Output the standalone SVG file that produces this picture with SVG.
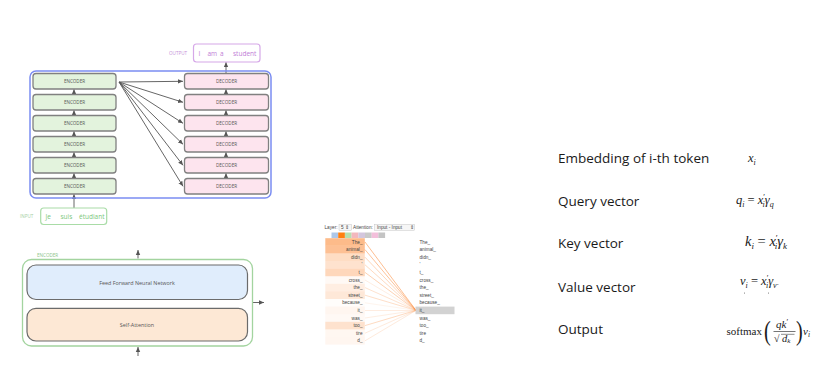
<svg xmlns="http://www.w3.org/2000/svg" width="815" height="378" viewBox="0 0 815 378">
<defs>
<marker id="ah" markerWidth="6" markerHeight="6" refX="5" refY="3" orient="auto" markerUnits="userSpaceOnUse">
<path d="M0,0.8 L5,3 L0,5.2 Z" fill="#555"/>
</marker>
<style>
.lbl{font-family:"Open Sans","Liberation Sans",sans-serif;font-size:4.6px;fill:#555;text-anchor:middle;dominant-baseline:central}
.lbl2{font-family:"Open Sans","Liberation Sans",sans-serif;font-size:5.4px;fill:#555;text-anchor:middle;dominant-baseline:central}
.enc{fill:#e3f3dd;stroke:#808080;stroke-width:1.3}
.dec{fill:#fde4ee;stroke:#808080;stroke-width:1.3}
.arr{stroke:#555;stroke-width:0.9;fill:none;marker-end:url(#ah)}
.big{font-family:"Open Sans","Liberation Sans",sans-serif;font-size:13.5px;fill:#1a1a1a}
.m{font-family:"Liberation Serif","DejaVu Serif",serif;fill:#1a1a1a}
.mi{font-style:italic}
.att{font-family:"Liberation Sans",sans-serif;font-size:4.7px;fill:#444;dominant-baseline:central}
.al{stroke:#fc8d3c;stroke-width:0.7}
</style>
</defs>

<g id="connectors">
<line class="arr" x1="119" y1="82" x2="183" y2="81.3"/>
<line class="arr" x1="119" y1="82" x2="183" y2="102.3"/>
<line class="arr" x1="119" y1="82" x2="183" y2="123.3"/>
<line class="arr" x1="119" y1="82" x2="183" y2="144.3"/>
<line class="arr" x1="119" y1="82" x2="183" y2="165.3"/>
<line class="arr" x1="119" y1="82" x2="183" y2="186.3"/>
<line class="arr" x1="74" y1="94.5" x2="74" y2="89.2"/>
<line class="arr" x1="74" y1="115.5" x2="74" y2="110.2"/>
<line class="arr" x1="74" y1="136.5" x2="74" y2="131.2"/>
<line class="arr" x1="74" y1="157.5" x2="74" y2="152.2"/>
<line class="arr" x1="74" y1="178.5" x2="74" y2="173.2"/>
<line class="arr" x1="74" y1="208" x2="74" y2="194.2"/>
<line class="arr" x1="226" y1="94.5" x2="226" y2="89.2"/>
<line class="arr" x1="226" y1="115.5" x2="226" y2="110.2"/>
<line class="arr" x1="226" y1="136.5" x2="226" y2="131.2"/>
<line class="arr" x1="226" y1="157.5" x2="226" y2="152.2"/>
<line class="arr" x1="226" y1="178.5" x2="226" y2="173.2"/>
<line class="arr" x1="226" y1="73.5" x2="226" y2="62.2"/>
<line class="arr" x1="138" y1="258.5" x2="138" y2="250"/>
<line class="arr" x1="138" y1="308" x2="138" y2="299.5"/>
<line class="arr" x1="252" y1="302.5" x2="264" y2="302.5"/>
<line class="arr" x1="138" y1="356" x2="138" y2="347"/>
</g>

<g id="stack">
<rect x="30" y="71" width="241" height="127" rx="6" fill="none" stroke="#7b8df2" stroke-width="1.5"/>
</g>

<g id="encoders">
<rect class="enc" x="33" y="73.5" width="83" height="15.5" rx="3"/><text class="lbl" x="74.5" y="81.3">ENCODER</text>
<rect class="enc" x="33" y="94.5" width="83" height="15.5" rx="3"/><text class="lbl" x="74.5" y="102.3">ENCODER</text>
<rect class="enc" x="33" y="115.5" width="83" height="15.5" rx="3"/><text class="lbl" x="74.5" y="123.3">ENCODER</text>
<rect class="enc" x="33" y="136.5" width="83" height="15.5" rx="3"/><text class="lbl" x="74.5" y="144.3">ENCODER</text>
<rect class="enc" x="33" y="157.5" width="83" height="15.5" rx="3"/><text class="lbl" x="74.5" y="165.3">ENCODER</text>
<rect class="enc" x="33" y="178.5" width="83" height="15.5" rx="3"/><text class="lbl" x="74.5" y="186.3">ENCODER</text>
</g>

<g id="decoders">
<rect class="dec" x="184.5" y="73.5" width="84" height="15.5" rx="3"/><text class="lbl" x="226.5" y="81.3">DECODER</text>
<rect class="dec" x="184.5" y="94.5" width="84" height="15.5" rx="3"/><text class="lbl" x="226.5" y="102.3">DECODER</text>
<rect class="dec" x="184.5" y="115.5" width="84" height="15.5" rx="3"/><text class="lbl" x="226.5" y="123.3">DECODER</text>
<rect class="dec" x="184.5" y="136.5" width="84" height="15.5" rx="3"/><text class="lbl" x="226.5" y="144.3">DECODER</text>
<rect class="dec" x="184.5" y="157.5" width="84" height="15.5" rx="3"/><text class="lbl" x="226.5" y="165.3">DECODER</text>
<rect class="dec" x="184.5" y="178.5" width="84" height="15.5" rx="3"/><text class="lbl" x="226.5" y="186.3">DECODER</text>
</g>

<g id="output">
<text x="169" y="53" font-family="Open Sans, Liberation Sans, sans-serif" font-size="4.6" fill="#c590d8" dominant-baseline="central">OUTPUT</text>
<rect x="193.5" y="44" width="66.5" height="18" rx="3" fill="#fff" stroke="#d6a8e8" stroke-width="1.2"/>
<g font-family="Open Sans, Liberation Sans, sans-serif" font-size="6.5" fill="#c07cd6" dominant-baseline="central">
<text x="198.5" y="53">I</text><text x="207.5" y="53">am</text><text x="220" y="53">a</text><text x="233" y="53">student</text>
</g>
</g>

<g id="input">
<text x="20" y="216" font-family="Open Sans, Liberation Sans, sans-serif" font-size="4.6" fill="#a6cfa4" dominant-baseline="central">INPUT</text>
<rect x="40.7" y="208" width="66" height="16.5" rx="3" fill="#fff" stroke="#a9dca7" stroke-width="1.2"/>
<g font-family="Open Sans, Liberation Sans, sans-serif" font-size="6.5" fill="#7cc77a" dominant-baseline="central">
<text x="45.5" y="216.2">Je</text><text x="60.5" y="216.2">suis</text><text x="79" y="216.2">étudiant</text>
</g>
</g>

<g id="encoder-detail">
<text x="37" y="255" font-family="Open Sans, Liberation Sans, sans-serif" font-size="4.6" fill="#8cc489" dominant-baseline="central">ENCODER</text>
<rect x="22.5" y="259.5" width="230" height="86.5" rx="9" fill="#fff" stroke="#a3d49f" stroke-width="1.3"/>
<rect x="27" y="265" width="220.5" height="34.5" rx="9" fill="#e0edfc" stroke="#6b6b6b" stroke-width="1.2"/>
<text class="lbl2" x="137" y="282.5">Feed Forward Neural Network</text>
<rect x="27" y="308.3" width="220.5" height="32.7" rx="9" fill="#fde8d5" stroke="#6b6b6b" stroke-width="1.2"/>
<text class="lbl2" x="137" y="325">Self-Attention</text>
</g>

<g id="attention-vis">
<text class="att" x="324.5" y="227.2">Layer:</text>
<rect x="339" y="224.3" width="12.5" height="6" fill="#f6f6f6" stroke="#bbb" stroke-width="0.4"/>
<text class="att" x="341" y="227.2">5 ⇕</text>
<text class="att" x="353" y="227.2">Attention:</text>
<rect x="374.7" y="224.3" width="40" height="6" fill="#f6f6f6" stroke="#bbb" stroke-width="0.4"/>
<text class="att" x="377" y="227.2">Input - Input</text>
<text class="att" x="410" y="227.2">⇕</text>
<rect x="331.5" y="232.5" width="6.7" height="5.5" fill="#aec7e8"/>
<rect x="338.2" y="232.5" width="6.7" height="5.5" fill="#ff7f0e"/>
<rect x="344.9" y="232.5" width="6.7" height="5.5" fill="#b7dfae"/>
<rect x="351.6" y="232.5" width="6.7" height="5.5" fill="#f3b7bd"/>
<rect x="358.3" y="232.5" width="6.7" height="5.5" fill="#d3c6dd"/>
<rect x="365" y="232.5" width="6.7" height="5.5" fill="#c9c9c9"/>
<rect x="371.7" y="232.5" width="6.7" height="5.5" fill="#f3bfdb"/>
<rect x="378.4" y="232.5" width="6.7" height="5.5" fill="#c4c4c4"/>

<g fill="#fc8d3c">
<rect x="325.3" y="238.2" width="39.5" height="7.6" opacity="0.6"/>
<rect x="325.3" y="245.8" width="39.5" height="7.6" opacity="0.55"/>
<rect x="325.3" y="253.4" width="39.5" height="7.6" opacity="0.3"/>
<rect x="325.3" y="261" width="39.5" height="7.6" opacity="0.25"/>
<rect x="325.3" y="268.6" width="39.5" height="7.6" opacity="0.35"/>
<rect x="325.3" y="276.2" width="39.5" height="7.6" opacity="0.05"/>
<rect x="325.3" y="283.8" width="39.5" height="7.6" opacity="0.15"/>
<rect x="325.3" y="291.4" width="39.5" height="7.6" opacity="0.2"/>
<rect x="325.3" y="299" width="39.5" height="7.6" opacity="0.02"/>
<rect x="325.3" y="306.6" width="39.5" height="7.6" opacity="0.08"/>
<rect x="325.3" y="314.2" width="39.5" height="7.6" opacity="0.05"/>
<rect x="325.3" y="321.8" width="39.5" height="7.6" opacity="0.25"/>
<rect x="325.3" y="329.4" width="39.5" height="7.6" opacity="0.07"/>
<rect x="325.3" y="337" width="39.5" height="7.6" opacity="0.08"/>
</g>
<g>
<line class="al" x1="365" y1="242" x2="416" y2="310.4" opacity="0.8"/>
<line class="al" x1="365" y1="249.6" x2="416" y2="310.4" opacity="0.75"/>
<line class="al" x1="365" y1="257.2" x2="416" y2="310.4" opacity="0.5"/>
<line class="al" x1="365" y1="264.8" x2="416" y2="310.4" opacity="0.45"/>
<line class="al" x1="365" y1="272.4" x2="416" y2="310.4" opacity="0.55"/>
<line class="al" x1="365" y1="280" x2="416" y2="310.4" opacity="0.2"/>
<line class="al" x1="365" y1="287.6" x2="416" y2="310.4" opacity="0.35"/>
<line class="al" x1="365" y1="295.2" x2="416" y2="310.4" opacity="0.4"/>
<line class="al" x1="365" y1="302.8" x2="416" y2="310.4" opacity="0.12"/>
<line class="al" x1="365" y1="310.4" x2="416" y2="310.4" opacity="0.25"/>
<line class="al" x1="365" y1="318" x2="416" y2="310.4" opacity="0.2"/>
<line class="al" x1="365" y1="325.6" x2="416" y2="310.4" opacity="0.45"/>
<line class="al" x1="365" y1="333.2" x2="416" y2="310.4" opacity="0.25"/>
<line class="al" x1="365" y1="340.8" x2="416" y2="310.4" opacity="0.25"/>
</g>
<g text-anchor="end">
<text class="att" x="362.5" y="242">The_</text>
<text class="att" x="362.5" y="249.6">animal_</text>
<text class="att" x="362.5" y="257.2">didn_</text>
<text class="att" x="362.5" y="264.8">'</text>
<text class="att" x="362.5" y="272.4">t_</text>
<text class="att" x="362.5" y="280">cross_</text>
<text class="att" x="362.5" y="287.6">the_</text>
<text class="att" x="362.5" y="295.2">street_</text>
<text class="att" x="362.5" y="302.8">because_</text>
<text class="att" x="362.5" y="310.4">it_</text>
<text class="att" x="362.5" y="318">was_</text>
<text class="att" x="362.5" y="325.6">too_</text>
<text class="att" x="362.5" y="333.2">tire</text>
<text class="att" x="362.5" y="340.8">d_</text>
</g>
<rect x="415.5" y="306.6" width="39" height="7.6" fill="#d2d2d2"/>
<g>
<text class="att" x="419.5" y="242">The_</text>
<text class="att" x="419.5" y="249.6">animal_</text>
<text class="att" x="419.5" y="257.2">didn_</text>
<text class="att" x="419.5" y="264.8">'</text>
<text class="att" x="419.5" y="272.4">t_</text>
<text class="att" x="419.5" y="280">cross_</text>
<text class="att" x="419.5" y="287.6">the_</text>
<text class="att" x="419.5" y="295.2">street_</text>
<text class="att" x="419.5" y="302.8">because_</text>
<text class="att" x="419.5" y="310.4">it_</text>
<text class="att" x="419.5" y="318">was_</text>
<text class="att" x="419.5" y="325.6">too_</text>
<text class="att" x="419.5" y="333.2">tire</text>
<text class="att" x="419.5" y="340.8">d_</text>
</g>
</g>

<g id="definitions">
<text class="big" x="558" y="163">Embedding of i-th token</text>
<text class="big" x="558" y="206">Query vector</text>
<text class="big" x="558" y="248">Key vector</text>
<text class="big" x="558" y="292">Value vector</text>
<text class="big" x="558" y="334">Output</text>

<text class="m" x="748" y="162" font-size="12.5"><tspan class="mi">x</tspan><tspan class="mi" font-size="8" dy="2.5">i</tspan></text>

<text class="m" x="736" y="204" font-size="12.5"><tspan class="mi">q</tspan><tspan class="mi" font-size="8" dy="2.5">i</tspan><tspan dy="-2.5"> = </tspan><tspan class="mi">x</tspan><tspan font-size="8" dy="-4.5">′</tspan><tspan class="mi" font-size="8" dx="-2.5" dy="7">i</tspan><tspan class="mi" dy="-2.5">γ</tspan><tspan class="mi" font-size="8" dy="2.5">q</tspan></text>

<text class="m" x="745" y="246" font-size="14.5"><tspan class="mi">k</tspan><tspan class="mi" font-size="9" dy="3">i</tspan><tspan dy="-3"> = </tspan><tspan class="mi">x</tspan><tspan font-size="9" dy="-5">′</tspan><tspan class="mi" font-size="9" dx="-3" dy="8">i</tspan><tspan class="mi" dy="-3">γ</tspan><tspan class="mi" font-size="9" dy="3">k</tspan></text>

<text class="m" x="740" y="285" font-size="12.5"><tspan class="mi">v</tspan><tspan class="mi" font-size="8" dy="2.5">i</tspan><tspan dy="-2.5"> = </tspan><tspan class="mi">x</tspan><tspan font-size="8" dy="-4.5">′</tspan><tspan class="mi" font-size="8" dx="-2.5" dy="7">i</tspan><tspan class="mi" dy="-2.5">γ</tspan><tspan class="mi" font-size="8" dy="2.5">v</tspan><tspan font-size="8" dy="-2.5">.</tspan></text>
<circle cx="744.5" cy="293" r="0.5" fill="#555"/>
<circle cx="768.5" cy="293" r="0.5" fill="#555"/>

<text class="m" x="726.5" y="335" font-size="11">softmax</text>
<text class="m" x="764" y="340" font-size="27" transform="translate(764 331) scale(0.75 1) translate(-764 -331)">(</text>
<text class="m" x="776" y="328" font-size="11"><tspan class="mi">qk</tspan><tspan font-size="8" dy="-3.5">′</tspan></text>
<line x1="773.5" y1="331.5" x2="795.5" y2="331.5" stroke="#1a1a1a" stroke-width="0.6"/>
<text class="m" x="774" y="341.5" font-size="10">√</text>
<line x1="781" y1="334.3" x2="794.5" y2="334.3" stroke="#1a1a1a" stroke-width="0.5"/>
<text class="m" x="782" y="341.5" font-size="10.5"><tspan class="mi">d</tspan><tspan class="mi" font-size="7" dy="1.5">k</tspan></text>
<text class="m" x="796" y="340" font-size="27" transform="translate(796 331) scale(0.75 1) translate(-796 -331)">)</text>
<text class="m" x="803" y="335" font-size="11"><tspan class="mi">v</tspan><tspan class="mi" font-size="7.5" dy="2">i</tspan></text>
</g>
</svg>
